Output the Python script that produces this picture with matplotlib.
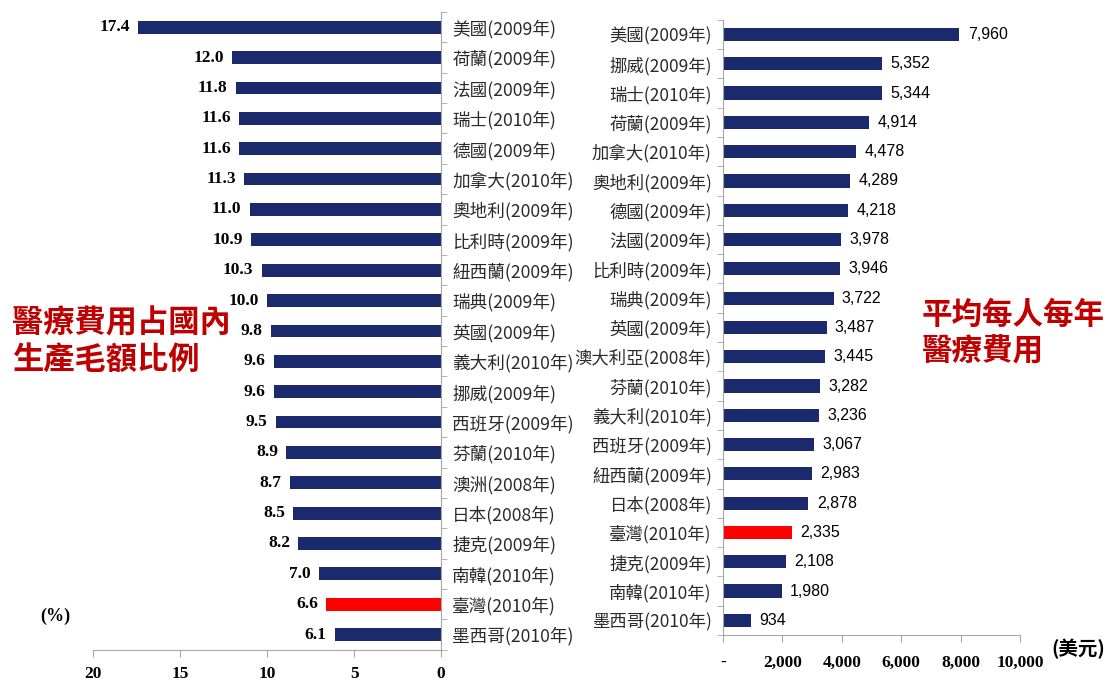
import matplotlib.pyplot as plt

plt.rcParams['font.family'] = ['Noto Sans CJK TC', 'DejaVu Sans']

# left panel: health expenditure as % of GDP
left_cats = ['美國(2009年)', '荷蘭(2009年)', '法國(2009年)', '瑞士(2010年)', '德國(2009年)',
             '加拿大(2010年)', '奧地利(2009年)', '比利時(2009年)', '紐西蘭(2009年)', '瑞典(2009年)',
             '英國(2009年)', '義大利(2010年)', '挪威(2009年)', '西班牙(2009年)', '芬蘭(2010年)',
             '澳洲(2008年)', '日本(2008年)', '捷克(2009年)', '南韓(2010年)', '臺灣(2010年)',
             '墨西哥(2010年)']
left_vals = [17.4, 12.0, 11.8, 11.6, 11.6, 11.3, 11.0, 10.9, 10.3, 10.0, 9.8,
             9.6, 9.6, 9.5, 8.9, 8.7, 8.5, 8.2, 7.0, 6.6, 6.1]

# right panel: per-capita health expenditure (USD)
right_cats = ['美國(2009年)', '挪威(2009年)', '瑞士(2010年)', '荷蘭(2009年)', '加拿大(2010年)',
              '奧地利(2009年)', '德國(2009年)', '法國(2009年)', '比利時(2009年)', '瑞典(2009年)',
              '英國(2009年)', '澳大利亞(2008年)', '芬蘭(2010年)', '義大利(2010年)', '西班牙(2009年)',
              '紐西蘭(2009年)', '日本(2008年)', '臺灣(2010年)', '捷克(2009年)', '南韓(2010年)',
              '墨西哥(2010年)']
right_vals = [7960, 5352, 5344, 4914, 4478, 4289, 4218, 3978, 3946, 3722, 3487,
              3445, 3282, 3236, 3067, 2983, 2878, 2335, 2108, 1980, 934]

highlight = '臺灣(2010年)'
navy = '#1a2a6c'
red = '#ff0000'
title_red = '#c00000'
spine_gray = '#a6a6a6'
serif = ['Liberation Serif', 'DejaVu Serif']

fig = plt.figure(figsize=(11.14, 6.84), dpi=100)
axl = fig.add_axes([0.0835, 0.05, 0.3125, 0.9325])
axr = fig.add_axes([0.649, 0.0716, 0.2666, 0.8994])

# ---- left ----
n = len(left_cats)
ypos = list(range(n))
cols = [red if c == highlight else navy for c in left_cats]
axl.barh(ypos, left_vals, height=0.42, color=cols)
axl.set_xlim(20, 0)
axl.set_ylim(n - 0.5, -0.5)
for y, v in zip(ypos, left_vals):
    axl.annotate(f'{v:.1f}', (v, y), xytext=(-6, 0), textcoords='offset points',
                 ha='right', va='center', fontsize=12.5, fontweight='bold', family=serif)
axl.yaxis.tick_right()
axl.set_yticks(ypos)
axl.set_yticklabels(left_cats, fontsize=12.7, color='#2a2a2a')
axl.set_yticks([i + 0.5 for i in range(-1, n)], minor=True)
axl.tick_params(axis='y', which='major', length=0, pad=8)
axl.tick_params(axis='y', which='minor', length=4, color=spine_gray, direction='out')
for lab in axl.get_yticklabels():
    lab.set_ha('left')
axl.set_xticks([20, 15, 10, 5, 0])
axl.tick_params(axis='x', length=5, color=spine_gray, pad=7)
for lab in axl.get_xticklabels():
    lab.set_family(serif)
    lab.set_fontweight('bold')
    lab.set_fontsize(12.5)
for s in ['left', 'top']:
    axl.spines[s].set_visible(False)
for s in ['right', 'bottom']:
    axl.spines[s].set_color(spine_gray)

# ---- right ----
m = len(right_cats)
ypos = list(range(m))
cols = [red if c == highlight else navy for c in right_cats]
axr.barh(ypos, right_vals, height=0.45, color=cols)
axr.set_xlim(0, 10000)
axr.set_ylim(m - 0.5, -0.5)
for y, v in zip(ypos, right_vals):
    axr.annotate(f'{v:,}', (v, y), xytext=(6, 0), textcoords='offset points',
                 ha='left', va='center', fontsize=11.5,
                 family=['Liberation Sans Narrow', 'Liberation Sans'])
axr.set_yticks(ypos)
axr.set_yticklabels(right_cats, fontsize=12.5, color='#2a2a2a')
axr.set_yticks([i + 0.5 for i in range(-1, m)], minor=True)
axr.tick_params(axis='y', which='major', length=0, pad=8)
axr.tick_params(axis='y', which='minor', length=4, color=spine_gray, direction='out')
xt = [0, 2000, 4000, 6000, 8000, 10000]
axr.set_xticks(xt)
axr.set_xticklabels(['-'] + [f'{v:,}' for v in xt[1:]])
axr.tick_params(axis='x', length=5, color=spine_gray, pad=9)
for lab in axr.get_xticklabels():
    lab.set_family(serif)
    lab.set_fontweight('bold')
    lab.set_fontsize(12.5)
for s in ['right', 'top']:
    axr.spines[s].set_visible(False)
for s in ['left', 'bottom']:
    axr.spines[s].set_color(spine_gray)

# ---- titles and units ----
fig.text(0.011, 0.5, '醫療費用占國內\n生產毛額比例', color=title_red, fontsize=22.5,
         fontweight='bold', ha='left', va='center', linespacing=1.2)
fig.text(0.827, 0.513, '平均每人每年\n醫療費用', color=title_red, fontsize=22,
         fontweight='bold', ha='left', va='center', linespacing=1.2)
fig.text(0.05, 0.099, '(%)', fontsize=13, fontweight='bold', family=serif, ha='center', va='center')
fig.text(0.968, 0.052, '(美元)', fontsize=14, fontweight='bold', ha='center', va='center')

fig.savefig('out.png', dpi=100)
